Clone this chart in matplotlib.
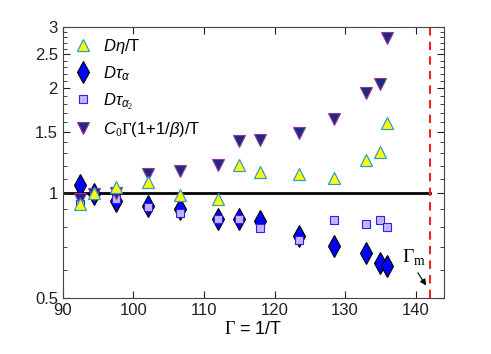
import matplotlib
matplotlib.use('Agg')
import matplotlib.pyplot as plt
from matplotlib.ticker import FixedLocator, NullFormatter, MultipleLocator

plt.rcParams['font.family'] = ['Liberation Sans', 'DejaVu Sans']
plt.rcParams['mathtext.fontset'] = 'custom'
plt.rcParams['mathtext.rm'] = 'Liberation Serif'
plt.rcParams['mathtext.it'] = 'Liberation Sans:italic'
plt.rcParams['mathtext.bf'] = 'Liberation Sans:bold'

# data
gamma = [92.5, 94.4, 97.6, 102.0, 106.6, 112.0, 115.0, 118.0, 123.4, 128.5, 133.0, 135.0, 136.0]
d_eta = [0.933, 1.0, 1.04, 1.08, 0.986, 0.96, 1.205, 1.148, 1.135, 1.103, 1.248, 1.313, 1.59]
d_tau_a = [1.053, 0.997, 0.947, 0.919, 0.903, 0.845, 0.845, 0.83, 0.752, 0.705, 0.673, 0.632, 0.62]
d_tau_a2 = [0.929, 0.995, 0.964, 0.913, 0.877, 0.845, 0.845, 0.794, 0.735, 0.836, 0.816, 0.837, 0.80]
c0_term = [0.96, 0.997, 1.003, 1.138, 1.155, 1.207, 1.409, 1.418, 1.49, 1.63, 1.94, 2.06, 2.79]
gamma_m = 142.0

y_ticks = [0.5, 1, 1.5, 2, 2.5, 3]
y_labels = ['0.5', '1', '1.5', '2', '2.5', '3']

fig = plt.figure(figsize=(4.91, 3.54), dpi=100)
ax = fig.add_axes([0.128, 0.158, 0.776, 0.766])

ax.plot([90, gamma_m], [1, 1], color='black', lw=2, zorder=1)
ax.axvline(gamma_m, color='#ee2222', lw=1.5, ls=(0, (4, 3)), zorder=1)

ax.plot(gamma, d_tau_a, 'd', ms=11, mfc='#0000ff', mec='black', mew=0.8,
        label=r'$D\tau_{\alpha}$', zorder=3)
ax.plot(gamma, d_tau_a2, 's', ms=6, mfc='#ccb0f5', mec='#2222ff', mew=0.8,
        label=r'$D\tau_{\alpha_2}$', zorder=4)
ax.plot(gamma, c0_term, 'v', ms=8.5, mfc='#1c2a80', mec='#993399', mew=0.8,
        label=r'$C_{\mathit{0}}\Gamma$(1+1/$\beta$)/T', zorder=5)
ax.plot(gamma, d_eta, '^', ms=8.5, mfc='#ffff00', mec='#3399cc', mew=0.9,
        label=r'$D\eta$/T', zorder=6)

handles, labels = ax.get_legend_handles_labels()
order = [3, 0, 1, 2]
ax.legend([handles[i] for i in order], [labels[i] for i in order],
          loc='upper left', frameon=False, fontsize=12, handletextpad=0.6,
          labelspacing=0.5, borderaxespad=0.2, handlelength=1.2)

ax.set_yscale('log')
ax.set_xlim(90, 144)
ax.set_ylim(0.5, 3)
ax.xaxis.set_major_locator(MultipleLocator(10))
ax.yaxis.set_major_locator(FixedLocator(y_ticks))
ax.set_yticklabels(y_labels)
minor = [v / 10 for v in range(5, 31) if v % 5 != 0]
ax.yaxis.set_minor_locator(FixedLocator(minor))
ax.yaxis.set_minor_formatter(NullFormatter())
ax.tick_params(which='both', direction='in', top=True, right=True,
               labelsize=12, colors='#222222')
ax.tick_params(which='major', length=5)
ax.tick_params(which='minor', length=3)
for s in ax.spines.values():
    s.set_color('#444444')
    s.set_linewidth(0.8)

ax.set_xlabel(r'$\Gamma$ = 1/T', fontsize=13, labelpad=2)

ax.annotate('', xy=(141.7, 0.535), xytext=(140.1, 0.6),
            arrowprops=dict(arrowstyle='-|>', color='black', lw=0.8,
                            mutation_scale=9))
ax.text(139.7, 0.655, r'$\Gamma_{\mathrm{m}}$', fontsize=14, ha='center',
        va='center')

plt.savefig('out.png', dpi=100)
